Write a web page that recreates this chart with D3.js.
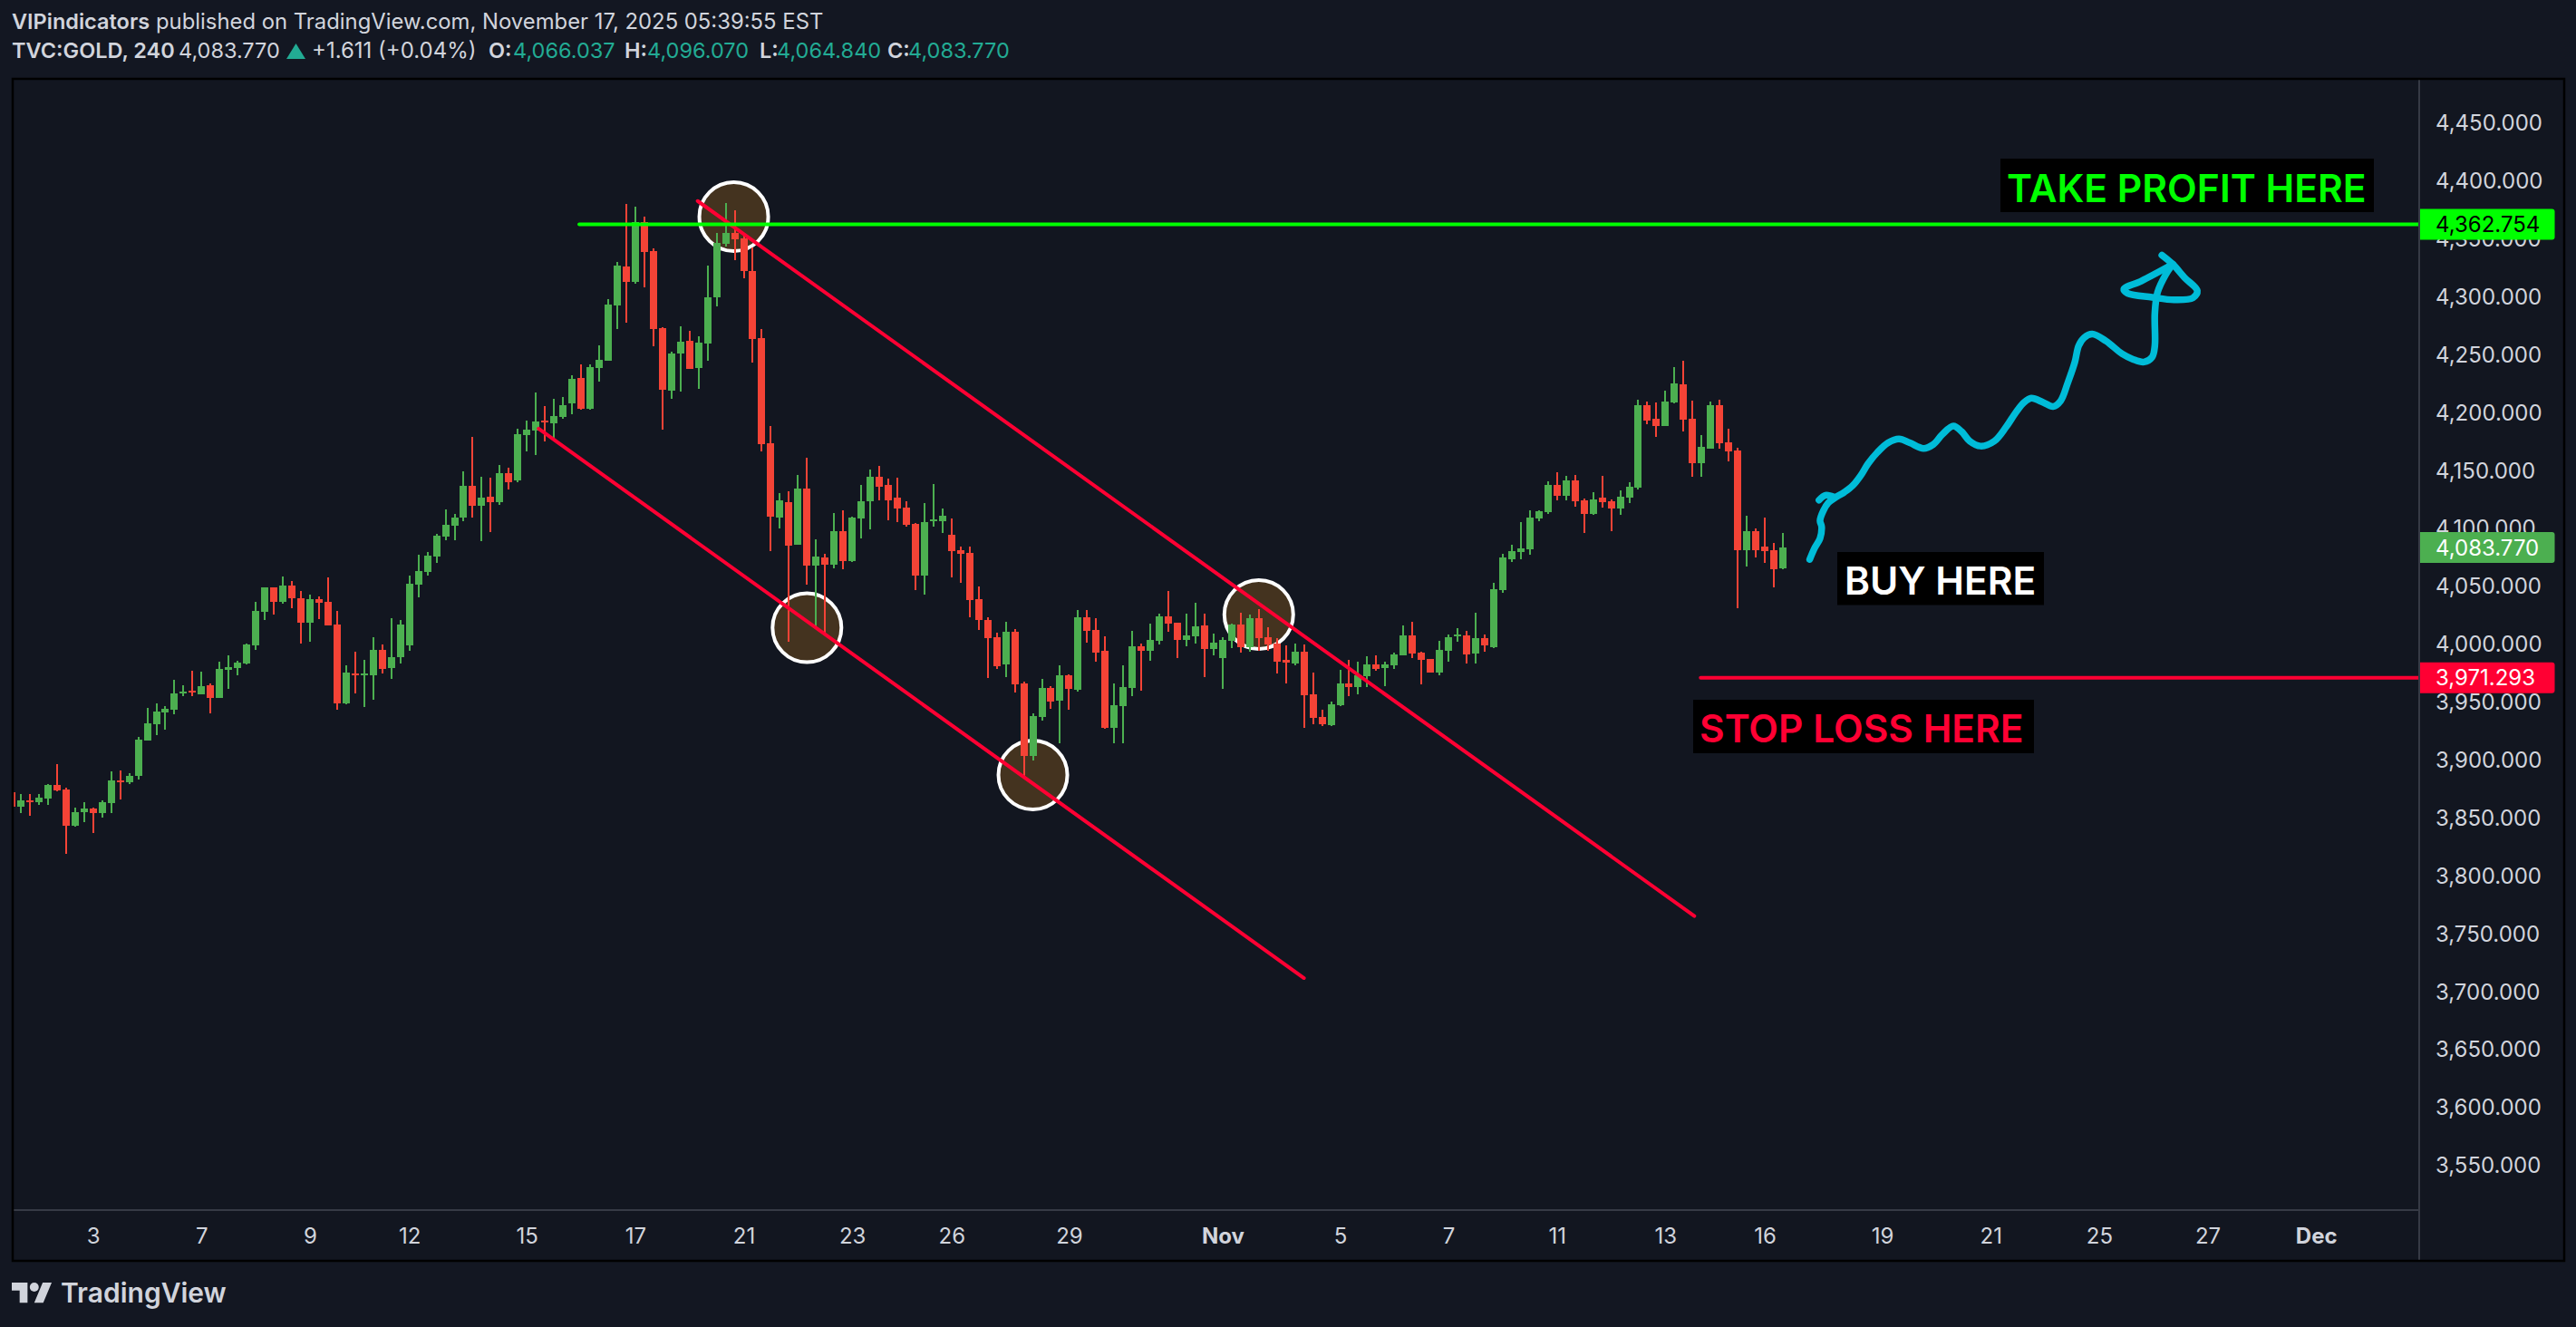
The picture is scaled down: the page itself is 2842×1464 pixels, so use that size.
<!DOCTYPE html>
<html>
<head>
<meta charset="utf-8">
<title>TVC:GOLD, 240</title>
<script src="https://cdn.jsdelivr.net/npm/d3@7"></script>
<style>
  html, body { margin: 0; padding: 0; background: #131722; }
  svg { display: block; }
  text { font-family: Inter, "Noto Sans", sans-serif; }
</style>
</head>
<body>
<div id="chart"></div>
<script>
// 4h candles
const opens = [
  3872.2,3859.9,3865.5,3863.8,3866.9,3878.7,3874.7,3843.4,3855.2,3858.2,
  3854.3,3863,3882.6,3881.2,3886.5,3916.9,3931.2,3941.3,3943.8,3957.8,
  3960,3956.9,3964.7,3953.8,3978.2,3979.6,3983.5,3999.1,4028.2,4049.4,
  4036.8,4050.8,4039.9,4018.7,4039.1,4036.8,4017.3,3949.1,3975.1,3973.4,
  3973.4,3995.2,3979.6,3989.1,3999.1,4051.7,4062.6,4076,4093,4102.5,
  4109.5,4136.9,4119.9,4127.7,4122.9,4147.8,4141.7,4180.8,4184.7,4193.4,
  4190.9,4196.4,4208.2,4230,4203.2,4238.7,4245.1,4292.6,4326.4,4313,
  4364.7,4339.6,4273.1,4219.1,4251.3,4262.2,4238.7,4259.9,4299.9,4346,
  4355.2,4350.8,4322.5,4264.7,4173.8,4109.6,4123,4086,4134.7,4068.2,
  4075.2,4069,4097.8,4072.1,4108.7,4123.8,4144.8,4137.8,4126.9,4118.2,
  4104.2,4059.5,4106.8,4106.5,4094.7,4081.4,4079.1,4039.1,4021.1,4006.3,
  3982.8,4011,3966.4,3903.8,3937.4,3962.5,3951.5,3973.4,3960.9,4023.5,
  4012.5,3994.5,3928,3946.8,3962.5,3998.4,3994.5,4003.1,4024.3,4018.8,
  4003.9,4007.1,4016.5,3996.1,3988.3,4003.1,4017.2,3997.7,4022.7,4006.3,
  4000.8,3986.7,3983.6,3993.8,3957,3937.4,3930.4,3947.6,3966.4,3963.2,
  3972.6,3982.8,3979.7,3982,3990.6,4007.8,3993,3987.5,3975.8,3994.5,
  4007,4007.8,3992.2,4005.5,3997.7,4047,4073.6,4079.8,4082.2,4108.8,
  4114.3,4137.7,4128.3,4141.7,4124.4,4112.7,4126.8,4123.7,4117.4,4126.8,
  4135.4,4206.6,4194.9,4188.6,4209,4224.6,4194.9,4156.5,4169,4206.6,
  4174.5,4167.5,4081.4,4097.8,4084.5,4081.4,4066.037
];
const closes = [
  3859.9,3865.5,3863.8,3867.8,3878.7,3873.9,3843.4,3855.2,3858.2,3854.3,
  3863.8,3882.6,3881.2,3886.5,3917.8,3932,3942.1,3944.3,3957.8,3959.4,
  3958.6,3963.9,3953.8,3979,3980.4,3984.3,4000,4029,4049.4,4036.8,
  4050.8,4039.9,4018.7,4039.1,4036,4016.4,3949.1,3975.6,3973.4,3975.1,
  3995.2,3979,3989.1,4017.3,4052.5,4063.4,4076.8,4093.9,4103.4,4109.5,
  4136.9,4119.9,4126.8,4122.9,4147.8,4140,4181.6,4185.5,4192.5,4191.7,
  4197.3,4206.5,4229.5,4203.2,4239.5,4245.7,4293.5,4327.3,4313,4364.7,
  4339,4272.5,4219.9,4251.3,4261.3,4237.8,4260.5,4299.9,4346.8,4355.2,
  4349.9,4322.5,4263.8,4173,4110.4,4124.4,4085.2,4134.7,4068.2,4076,
  4069,4097.8,4072.1,4109.6,4123.8,4144.8,4136.1,4124.4,4117.4,4103.4,
  4059.5,4105.6,4108.1,4111.2,4080.6,4078.3,4038.6,4021.1,4005.5,3981.2,
  4011,3965.6,3903.8,3938.2,3962.5,3950.7,3973.4,3961.7,4023.5,4011.8,
  3993,3928,3947.6,3963.2,3998.4,3994.5,4003.9,4024.3,4018,4003.9,
  4007.8,4015.7,3996.1,4001.6,4003.9,4017.2,3997.7,4022.7,4005.5,4000,
  3985.1,3984.4,3993.8,3956.2,3936.6,3931.1,3948.4,3966.4,3963.2,3973.4,
  3982.8,3978.9,3982.8,3991.4,4007.8,3992.2,3986.7,3975.8,3995.3,4006.3,
  4008.6,3991.4,4005.5,3999.2,4047.8,4075.2,4080.6,4083,4109.6,4115,
  4137.7,4128.3,4141.7,4123.7,4112.7,4125.2,4122.9,4117.4,4127.6,4136.2,
  4206.6,4193.3,4188.6,4209.8,4225.4,4194.1,4156.5,4170.6,4206.6,4173.7,
  4166.7,4081.4,4097.8,4081.4,4080.6,4065,4083.77
];
const highs = [
  3872.2,3870.8,3870.8,3870.8,3879.5,3896.8,3876.1,3859.1,3863.8,3859.1,
  3865.5,3890.4,3891.2,3888.7,3920,3945.2,3949.1,3946.9,3969.5,3964.7,
  3977.3,3976.5,3966.4,3985.1,3990.7,3986,4000.8,4036.8,4049.4,4049.4,
  4058.7,4054.7,4046.1,4043,4041.6,4057.8,4029,3982.1,3993.8,3986.8,
  4006.4,4000,4022.6,4021.2,4059.5,4077.4,4079.9,4095.5,4116.5,4112.6,
  4149.5,4179.1,4144.7,4143.9,4155.1,4152.6,4186.4,4193.4,4217.7,4205.9,
  4212.1,4213.8,4232.5,4241.8,4241.8,4258.2,4298.2,4330.4,4380.4,4378.1,
  4369.5,4341.8,4273.9,4252.9,4274.7,4270.8,4266.1,4327.3,4355.2,4381.2,
  4374.8,4355.2,4342.9,4272.5,4188.6,4130.8,4132.2,4146.4,4161.3,4090.8,
  4078.2,4113.5,4116,4110.4,4137.8,4151.2,4154.3,4143.4,4143.9,4123.8,
  4104.8,4122.1,4138.6,4117.4,4108.8,4084.5,4084.5,4050.1,4023.5,4010.2,
  4019.6,4013.3,3967.9,3940.5,3970.3,3964,3982,3974.2,4029.8,4029.8,
  4022.7,4007.1,3966.4,3982,4011.8,4000.8,4018,4026.6,4046.2,4018.8,
  4026.6,4036,4026.6,4009.4,4006.3,4018,4027.4,4025.8,4030.5,4014.9,
  4005.5,3999.2,4000.8,4000,3975.8,3943.7,3950.7,3978.1,3986.7,3985.1,
  3989.8,3990.6,3985.1,3993,4016.4,4019.6,3993.8,3987.5,4003.1,4008.6,
  4014,4011.8,4027.4,4008.6,4053.2,4078.3,4086,4105.7,4115.8,4115.8,
  4140.9,4148.7,4145.6,4146.4,4126,4131.5,4145.6,4125.2,4133,4140,
  4211.3,4209.8,4209,4219.1,4239.5,4245,4210.5,4180.8,4209.8,4211.3,
  4186.3,4169.8,4111.1,4100.2,4109.6,4087.6,4096.07
];
const lows = [
  3859.9,3854.3,3852.1,3861.6,3861.6,3873.3,3819.1,3842.6,3846.5,3837.3,
  3850.4,3854.3,3866.1,3879.5,3883.4,3916.9,3921.7,3926.4,3939.9,3955.5,
  3955.5,3956.9,3940.4,3953.8,3961.7,3973.4,3982.9,3995.2,4021.2,4025.9,
  4035.2,4031.3,4000.8,4002.5,4022,4016.4,3943.8,3948.2,3957.8,3946,
  3952.2,3975.1,3970.3,3983.5,3994.6,4040.8,4059.5,4070.4,4090,4090,
  4106.4,4109.5,4089.1,4096.9,4120.4,4133.8,4140,4166.8,4163.5,4175.2,
  4178.6,4194.8,4198.7,4202.6,4202.6,4226.9,4245.1,4272.5,4277.8,4311.6,
  4308.3,4257.4,4185.6,4212.1,4218.3,4237.8,4220.8,4245.1,4292.1,4343.5,
  4331.7,4316.1,4243.4,4166.8,4080.8,4100.3,4002.5,4086,4051.7,4014.2,
  4010.3,4065.7,4065.1,4071.3,4091.7,4099.5,4124.4,4107.3,4105.6,4101.7,
  4046.9,4043,4101.7,4096.4,4058.2,4053.2,4023.5,4012.5,3971.1,3978.9,
  3971.8,3958.5,3886.5,3899.8,3934.3,3944.5,3914.7,3943.7,3959.3,4001.6,
  3985.1,3927.2,3914.7,3914.7,3955.4,3960.1,3985.9,4000,4011,3988.3,
  3998.4,4000.8,3971.8,3990.6,3961.7,3996.9,3993,3993.8,3994.5,3994.5,
  3975,3966.4,3982,3928,3931.1,3929.6,3929.6,3946.8,3955.4,3957,
  3963.2,3977.3,3964,3978.9,3990.6,3988.2,3965.6,3975.8,3973.4,3985.1,
  4002.4,3983.6,3983.6,3993.8,3996.9,4044.6,4071.2,4073.6,4077.5,4106.5,
  4112.7,4124.4,4124.4,4119,4096.3,4111.9,4118.2,4097.8,4111.9,4122.1,
  4133.8,4190.2,4179.2,4188.6,4208.2,4184,4144.8,4144.8,4169,4169,
  4158.1,4031.3,4067.3,4075.2,4070.4,4049.3,4064.84
];

// axis ticks
const priceTicks = [3550,3600,3650,3700,3750,3800,3850,3900,3950,4000,4050,4100,4150,4200,4250,4300,4350,4400,4450];
const timeTickBars = [9,21,33,44,57,69,81,93,104,117,134,147,159,171,183,194,207,219,231,243,255];
const timeTickLabels = ["3","7","9","12","15","17","21","23","26","29","Nov","5","7","11","13","16","19","21","25","27","Dec"];

// drawn levels and channel
const takeProfit = 4362.754, stopLoss = 3971.293, lastClose = 4083.77;
const channelUpper = [[75.9, 4382.9], [186.2, 3765.5]];
const channelLower = [[58.3, 4186.3], [143, 3712]];
const touchBars = [79.9, 88, 113, 138];
const touchPrices = [4369.4, 4014.5, 3887.3, 4025.9];

// the hand drawn arrow, [bar, price]
const sketchShaft = [
  [198.97,4073.4],[199.51,4083.2],[200.11,4091.6],[200.29,4101.4],[200.11,4107],[200.47,4115.4],
  [201.02,4122.3],[201.74,4126.5],[202.82,4131.6],[203.73,4137.2],[204.63,4146.1],[205.41,4155.9],
  [206.44,4165.7],[207.64,4174.1],[208.85,4177.4],[210.05,4174.1],[211.56,4169.3],[212.64,4172.7],
  [213.67,4181.6],[214.87,4188.6],[215.78,4183.8],[216.68,4175.5],[217.88,4171.3],[219.39,4175.5],
  [220.72,4188],[221.8,4200.6],[222.7,4209],[223.49,4212.6],[224.81,4209],[225.9,4205.4],
  [226.74,4210.4],[227.52,4225.8],[228.31,4243.9],[228.73,4257.9],[229.33,4264.9],[230.23,4268],
  [231.74,4262.1],[233.55,4250.9],[234.75,4246.2],[235.96,4243.9],[236.86,4248.1],[237.16,4257.9],
  [237.16,4285.9],[237.46,4304],[238.37,4319.4],[239.15,4328.3]
];
const sketchHook = [[200,4124.6],[200.72,4128.8],[201.74,4127]];
const sketchHead = [
  [237.94,4336.2],[239.15,4328.3],[240.47,4316.6],[241.86,4305.4],[241.38,4299.3],[239.27,4297.6],
  [236.86,4299.8],[234.15,4303.2],[233.73,4306.8],[235.66,4313.8],[239.15,4328.3]
];

const width = 2842, height = 1464;
const bull = "#4caf50", bear = "#f44336", textCol = "#d1d4dc", teal = "#22ab94";
const levelRed = "#ff0033", levelGreen = "#00ff00", sketchCol = "#00bcd8";
const plotL = 14, plotT = 87, axisX = 2669, axisY = 1335, frameR = 2829, frameB = 1391;

const x = d3.scaleLinear().domain([0, 196]).range([13, 1967]);
const y = d3.scaleLinear().domain([4400, 3550]).range([199.9, 1286]);

const svg = d3.select("#chart").append("svg")
  .attr("width", width).attr("height", height)
  .attr("viewBox", `0 0 ${width} ${height}`);

svg.append("rect").attr("width", width).attr("height", height).attr("fill", "#131722");
svg.append("rect").attr("x", plotL).attr("y", plotT)
  .attr("width", frameR - plotL).attr("height", frameB - plotT)
  .attr("fill", "#121620");

svg.append("clipPath").attr("id", "plot-clip").append("rect")
  .attr("x", plotL).attr("y", plotT)
  .attr("width", axisX - plotL).attr("height", axisY - plotT);

// Header
function headerText(px, py, str, col, weight, size) {
  svg.append("text").attr("x", px).attr("y", py)
    .attr("font-size", size || 23.5).attr("fill", col)
    .attr("font-weight", weight || 400).text(str);
}
headerText(13, 32, "VIPindicators", textCol, 600);
headerText(172, 32, "published on TradingView.com, November 17, 2025 05:39:55 EST", textCol, 400, 23.85);
headerText(13, 64, "TVC:GOLD, 240", textCol, 600);
headerText(197, 64, "4,083.770", textCol);
headerText(344, 64, "+1.611 (+0.04%)", textCol, 400, 24);
svg.append("path").attr("d", d3.line()([[316, 65], [326.5, 48], [337, 65]]) + "Z").attr("fill", teal);
[["O:", 539, "4,066.037", 566], ["H:", 689, "4,096.070", 714],
 ["L:", 838, "4,064.840", 857], ["C:", 979, "4,083.770", 1002]].forEach(d => {
  headerText(d[1], 64, d[0], textCol, 600);
  headerText(d[3], 64, d[2], teal);
});

const plot = svg.append("g").attr("clip-path", "url(#plot-clip)");

// Touch circles sit under the candles
plot.selectAll("circle.touch").data(touchBars).enter().append("circle")
  .attr("class", "touch")
  .attr("cx", d => x(d))
  .attr("cy", (d, i) => y(touchPrices[i]))
  .attr("r", 38)
  .attr("fill", "#44331f")
  .attr("stroke", "#ffffff")
  .attr("stroke-width", 4);

// Candles
const candles = plot.selectAll("g.candle").data(opens).enter().append("g")
  .attr("class", "candle")
  .attr("fill", (d, i) => closes[i] >= d ? bull : bear)
  .attr("shape-rendering", "crispEdges");
candles.append("rect")
  .attr("x", (d, i) => Math.round(x(i)) - 1)
  .attr("width", 2)
  .attr("y", (d, i) => y(highs[i]))
  .attr("height", (d, i) => y(lows[i]) - y(highs[i]));
candles.append("rect")
  .attr("x", (d, i) => Math.round(x(i)) - 4)
  .attr("width", 8)
  .attr("y", (d, i) => y(Math.max(d, closes[i])))
  .attr("height", (d, i) => Math.max(2, y(Math.min(d, closes[i])) - y(Math.max(d, closes[i]))));

// Channel and levels
const line = d3.line().x(d => x(d[0])).y(d => y(d[1]));
function drawLine(pts, col, w) {
  plot.append("path").attr("d", line(pts)).attr("fill", "none")
    .attr("stroke", col).attr("stroke-width", w).attr("stroke-linecap", "round");
}
drawLine(channelUpper, levelRed, 4);
drawLine(channelLower, levelRed, 4);
drawLine([[62.8, takeProfit], [x.invert(axisX + 4), takeProfit]], levelGreen, 4);
drawLine([[186.9, stopLoss], [x.invert(axisX + 4), stopLoss]], levelRed, 4);

// Hand drawn arrow
const sketch = d3.line().x(d => x(d[0])).y(d => y(d[1])).curve(d3.curveCatmullRom);
[sketchShaft, sketchHook, sketchHead].forEach(pts => {
  plot.append("path").attr("d", sketch(pts)).attr("fill", "none")
    .attr("stroke", sketchCol).attr("stroke-width", 7.5)
    .attr("stroke-linecap", "round").attr("stroke-linejoin", "round");
});

// Text notes
function note(bx, by, bw, bh, tx, ty, str, col, size) {
  plot.append("rect").attr("x", bx).attr("y", by).attr("width", bw).attr("height", bh).attr("fill", "#000000");
  plot.append("text").attr("x", tx).attr("y", ty)
    .attr("font-size", size).attr("font-weight", 600)
    .attr("fill", col).text(str);
}
note(2207, 175, 412, 59, 2214, 223, "TAKE PROFIT HERE", levelGreen, 42.6);
note(2027, 609, 228, 58.5, 2035, 656, "BUY HERE", "#ffffff", 42.5);
note(1868, 772, 376, 59, 1875, 819, "STOP LOSS HERE", levelRed, 42.5);

// Axes
const yAxis = d3.axisRight(y).tickValues(priceTicks).tickFormat(d3.format(",.3f")).tickSize(0).tickPadding(18);
const xAxis = d3.axisBottom(x).tickValues(timeTickBars).tickFormat((d, i) => timeTickLabels[i]).tickSize(0).tickPadding(20);

const yG = svg.append("g").attr("transform", `translate(${axisX},0)`).call(yAxis);
yG.select(".domain").remove();
yG.selectAll("text").attr("font-size", 24).attr("fill", textCol).style("font-family", "Inter");

const xG = svg.append("g").attr("transform", `translate(0,${axisY})`).call(xAxis);
xG.select(".domain").remove();
xG.selectAll("text").attr("font-size", 24).attr("fill", textCol).style("font-family", "Inter")
  .attr("font-weight", (d, i) => isNaN(+timeTickLabels[i]) ? 700 : 400);

// Price pills on the axis
const pills = [
  { value: takeProfit, bg: levelGreen, fg: "#000000" },
  { value: lastClose, bg: bull, fg: "#ffffff" },
  { value: stopLoss, bg: levelRed, fg: "#ffffff" }
];
pills.forEach(p => {
  const py = y(p.value);
  svg.append("path")
    .attr("d", `M${axisX + 1},${py - 17}h145.5a3,3 0 0 1 3,3v28a3,3 0 0 1 -3,3h-145.5z`)
    .attr("fill", p.bg);
  svg.append("text").attr("x", axisX + 18).attr("y", py).attr("dy", "0.36em")
    .attr("font-size", 24).attr("fill", p.fg).text(d3.format(",.3f")(p.value));
});

// Separators and frame
svg.append("line").attr("x1", axisX).attr("x2", axisX).attr("y1", plotT).attr("y2", frameB)
  .attr("stroke", "#363a45").attr("stroke-width", 2);
svg.append("line").attr("x1", plotL).attr("x2", axisX).attr("y1", axisY).attr("y2", axisY)
  .attr("stroke", "#363a45").attr("stroke-width", 2);
svg.append("rect").attr("x", plotL).attr("y", plotT)
  .attr("width", frameR - plotL).attr("height", frameB - plotT)
  .attr("fill", "none").attr("stroke", "#000000").attr("stroke-width", 2.5);

// TradingView mark
const logo = svg.append("g").attr("transform", "translate(13,1410) scale(1.24)").attr("fill", textCol);
logo.append("path").attr("d", "M14 22H7V11H0V4h14v18zM28 22h-8l7.5-18h8L28 22z");
logo.append("circle").attr("cx", 20).attr("cy", 8).attr("r", 4);
svg.append("text").attr("x", 67).attr("y", 1437)
  .attr("font-size", 30).attr("font-weight", 600).attr("fill", textCol).text("TradingView");
</script>
</body>
</html>
